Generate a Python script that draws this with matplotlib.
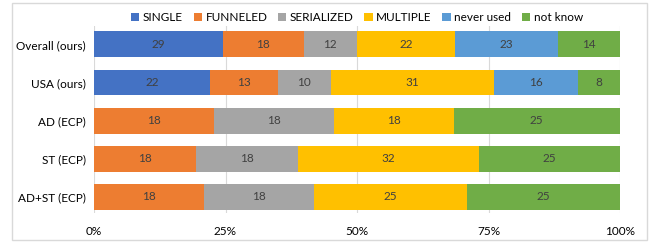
import matplotlib.pyplot as plt
from matplotlib.patches import Rectangle
import numpy as np

plt.rcParams['font.family'] = ['Lato', 'DejaVu Sans']

# Data
groups = ["Overall (ours)", "USA (ours)", "AD (ECP)", "ST (ECP)", "AD+ST (ECP)"]
series = ["SINGLE", "FUNNELED", "SERIALIZED", "MULTIPLE", "never used", "not know"]
single = [29, 22, 0, 0, 0]
funneled = [18, 13, 18, 18, 18]
serialized = [12, 10, 18, 18, 18]
multiple = [22, 31, 18, 32, 25]
never_used = [23, 16, 0, 0, 0]
not_know = [14, 8, 25, 25, 25]
colors = ["#4472C4", "#ED7D31", "#A5A5A5", "#FFC000", "#5B9BD5", "#70AD47"]

values = np.array([single, funneled, serialized, multiple, never_used, not_know], dtype=float)
totals = values.sum(axis=0)
shares = values / totals

fig = plt.figure(figsize=(6.56, 2.43), dpi=100)
ax = fig.add_axes([94 / 656, 30 / 243, 526 / 656, 187 / 243])

y = np.arange(len(groups))
left = np.zeros(len(groups))
for i, name in enumerate(series):
    ax.barh(y, shares[i], left=left, height=0.68, color=colors[i], label=name, zorder=2)
    for j in range(len(groups)):
        if values[i, j] > 0:
            ax.text(left[j] + shares[i, j] / 2, y[j], f"{int(values[i, j])}",
                    ha='center', va='center', fontsize=8.5, color='#404040', zorder=3)
    left += shares[i]

ax.set_xlim(0, 1)
ax.set_ylim(4.42, -0.48)
ax.set_yticks(y)
ax.set_yticklabels(groups, fontsize=8.5, color='#000000')
ax.set_xticks([0, 0.25, 0.5, 0.75, 1.0])
ax.set_xticklabels(["0%", "25%", "50%", "75%", "100%"], fontsize=8.5, color='#000000')
ax.tick_params(length=0, pad=6)
ax.tick_params(axis='x', pad=9)
ax.grid(axis='x', color='#D9D9D9', linewidth=0.8, zorder=0)
for s in ax.spines.values():
    s.set_visible(False)

ax.legend(loc='lower center', bbox_to_anchor=(0.5, 0.99), ncol=6, frameon=False,
          fontsize=8.5, handlelength=0.7, handleheight=0.7, handletextpad=0.3,
          columnspacing=0.9, borderaxespad=0)

fig.patches.append(Rectangle((12 / 656, 3 / 243), 635 / 656, 237 / 243, transform=fig.transFigure,
                             fill=False, edgecolor='#D9D9D9', linewidth=1))

fig.savefig("out.png", dpi=100)
